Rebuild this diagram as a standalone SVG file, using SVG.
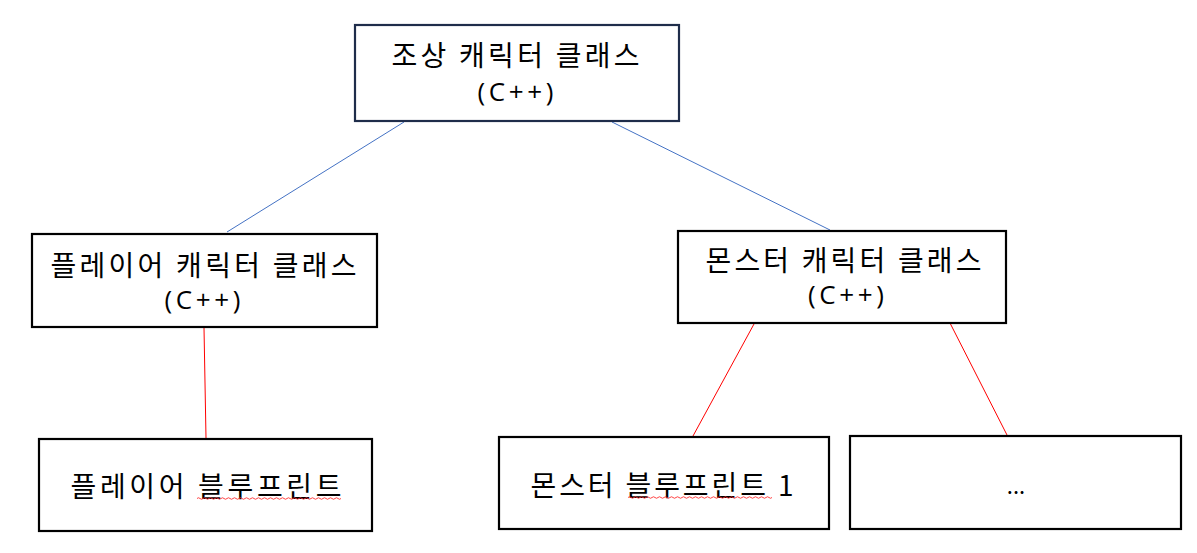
<svg xmlns="http://www.w3.org/2000/svg" width="1197" height="553" viewBox="0 0 1197 553">
<style>
.box{fill:#fff;stroke:#000;stroke-width:2.2}
.top{stroke:#1f2d4a}
.t{font-family:"Noto Sans CJK KR","Noto Sans",sans-serif;font-size:28px;fill:#000;text-anchor:middle}
.s{font-family:"Open Sans","Noto Sans",sans-serif;font-size:26px}
.blue{stroke:#4472c4;stroke-width:1;fill:none}
.red{stroke:#ff0000;stroke-width:1;fill:none}
.sq{stroke:#ff3030;stroke-width:0.9;fill:none}
</style>
<rect width="1197" height="553" fill="#fff"/>
<g id="connectors">
<line class="blue" x1="404" y1="122" x2="227" y2="232"/>
<line class="blue" x1="612" y1="122" x2="830" y2="230"/>
<line class="red" x1="204" y1="328" x2="206" y2="438"/>
<line class="red" x1="754" y1="324" x2="693" y2="436"/>
<line class="red" x1="950" y1="323" x2="1007" y2="435"/>
</g>
<g id="ancestor">
<rect class="box top" x="355" y="25" width="324" height="96"/>
<text class="t" x="515.5" y="66" textLength="248" lengthAdjust="spacing">조상 캐릭터 클래스</text>
<text class="t s" x="515.5" y="101" textLength="76" lengthAdjust="spacing">(C++)</text>
</g>
<g id="player-class">
<rect class="box" x="32" y="234" width="345" height="93"/>
<text class="t" x="203.5" y="276" textLength="306" lengthAdjust="spacing">플레이어 캐릭터 클래스</text>
<text class="t s" x="202.5" y="309" textLength="76" lengthAdjust="spacing">(C++)</text>
</g>
<g id="monster-class">
<rect class="box" x="678" y="231" width="328" height="92"/>
<text class="t" x="843.5" y="271" textLength="276" lengthAdjust="spacing">몬스터 캐릭터 클래스</text>
<text class="t s" x="846" y="304" textLength="76" lengthAdjust="spacing">(C++)</text>
</g>
<g id="player-bp">
<rect class="box" x="39" y="439" width="333" height="92"/>
<text class="t" x="206" y="497" textLength="271" lengthAdjust="spacing">플레이어 블루프린트</text>
<path class="sq" d="M197 498.5 q1.5 -1.5 3 0 t3 0 t3 0 t3 0 t3 0 t3 0 t3 0 t3 0 t3 0 t3 0 t3 0 t3 0 t3 0 t3 0 t3 0 t3 0 t3 0 t3 0 t3 0 t3 0 t3 0 t3 0 t3 0 t3 0 t3 0 t3 0 t3 0 t3 0 t3 0 t3 0 t3 0 t3 0 t3 0 t3 0 t3 0 t3 0 t3 0 t3 0 t3 0 t3 0 t3 0 t3 0 t3 0 t3 0 t3 0 t3 0 t3 0 t3 0"/>
</g>
<g id="monster-bp-1">
<rect class="box" x="499" y="437" width="330" height="92"/>
<text class="t" x="662" y="496" textLength="263" lengthAdjust="spacing">몬스터 블루프린트 1</text>
<path class="sq" d="M628 497.5 q1.5 -1.5 3 0 t3 0 t3 0 t3 0 t3 0 t3 0 t3 0 t3 0 t3 0 t3 0 t3 0 t3 0 t3 0 t3 0 t3 0 t3 0 t3 0 t3 0 t3 0 t3 0 t3 0 t3 0 t3 0 t3 0 t3 0 t3 0 t3 0 t3 0 t3 0 t3 0 t3 0 t3 0 t3 0 t3 0 t3 0 t3 0 t3 0 t3 0 t3 0 t3 0 t3 0 t3 0 t3 0 t3 0 t3 0 t3 0 t3 0 t3 0"/>
</g>
<g id="more">
<rect class="box" x="850" y="436" width="331" height="93"/>
<text class="t" x="1016" y="494" style="font-size:22px">...</text>
</g>
</svg>
